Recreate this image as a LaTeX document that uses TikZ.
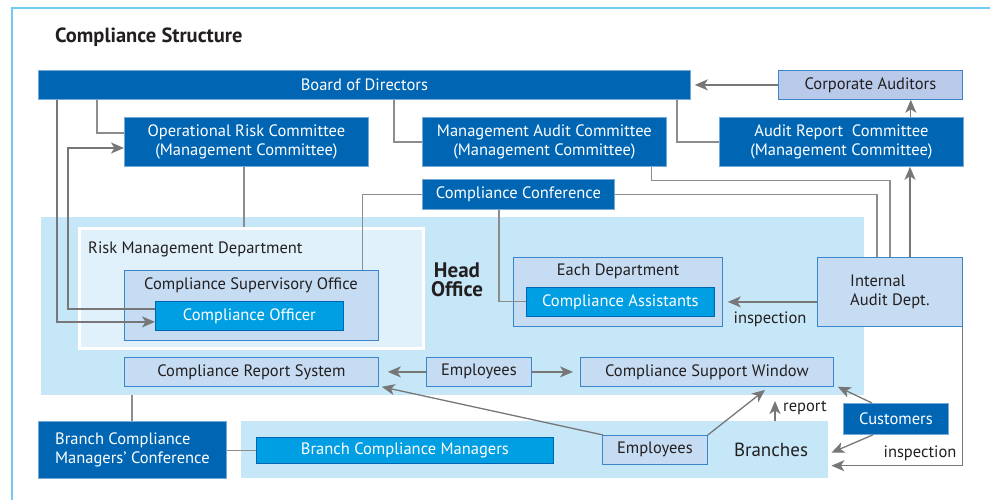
\documentclass[tikz,border=0pt]{standalone}
\usepackage{fontspec}
\setmainfont{PT Sans}
\usetikzlibrary{arrows.meta}
\definecolor{dkblue}{HTML}{0066B3}
\definecolor{cyanb}{HTML}{009FE3}
\definecolor{ltbox}{HTML}{C5DCF2}
\definecolor{bordb}{HTML}{3A86C8}
\definecolor{areac}{HTML}{C6E7F8}
\definecolor{rmdc}{HTML}{E0F1FB}
\definecolor{corpc}{HTML}{B8C9EA}
\definecolor{connc}{HTML}{8C8C8C}
\definecolor{arrc}{HTML}{777777}
\definecolor{txtc}{HTML}{231F20}
\definecolor{framec}{HTML}{6FCBF0}
\tikzset{
 box/.style={anchor=north west, inner sep=0pt, font=\fontsize{16.5}{19}\selectfont, align=center},
 darkbox/.style={box, fill=dkblue, draw=bordb!70, line width=0.8pt, text=white},
 cyanbox/.style={box, fill=cyanb, draw=dkblue, line width=0.8pt, text=white},
 lightbox/.style={box, fill=ltbox, draw=bordb, line width=0.8pt, text=txtc},
 areabox/.style={anchor=north west, inner sep=0pt, fill=areac},
 lbl/.style={inner sep=0pt, font=\fontsize{16.5}{19}\selectfont, text=txtc},
 conn/.style={draw=connc, line width=1.1pt},
 arrow/.style={draw=arrc, line width=1.3pt, -{Stealth[length=13pt,width=11pt,inset=3.5pt]}},
}
\begin{document}
\begin{tikzpicture}[x=1pt,y=-1pt]
\useasboundingbox (0,0) rectangle (990,500);
\draw[framec, line width=1.2pt] (12,500) -- (12,8) -- (990,8);
\node[anchor=west, inner sep=0pt, font=\bfseries\fontsize{20.5}{22}\selectfont, text=txtc] (title) at (55,37) {Compliance Structure};

% areas
\node[areabox, minimum width=823, minimum height=178] (ho) at (41,217) {};
\node[areabox, fill=rmdc, draw=white, line width=2.5pt, minimum width=344, minimum height=120] (rmd) at (78,227) {};
\node[areabox, minimum width=587, minimum height=57] (br) at (241,421) {};

% top level
\node[darkbox, minimum width=652, minimum height=29] (bod) at (38,70) {Board of Directors};
\node[lightbox, fill=corpc, minimum width=184, minimum height=29] (ca) at (778,70) {Corporate Auditors};
\node[darkbox, minimum width=244, minimum height=49] (orc) at (124,117) {Operational Risk Committee\\(Management Committee)};
\node[darkbox, minimum width=244, minimum height=49] (mac) at (422,117) {Management Audit Committee\\(Management Committee)};
\node[darkbox, minimum width=244, minimum height=49] (arc) at (719,117) {Audit Report\ \ Committee\\(Management Committee)};
\node[darkbox, minimum width=192, minimum height=30] (cc) at (422,179) {Compliance Conference};

% head office
\node[lbl, anchor=west] (rmdl) at (88,249) {Risk Management Department};
\node[lightbox, minimum width=254, minimum height=70] (cso) at (124,270) {};
\node[lbl] (csol) at (251,285) {Compliance Supervisory Office};
\node[cyanbox, minimum width=188, minimum height=29] (co) at (155,301) {Compliance Officer};
\node[inner sep=0pt, align=center, font=\bfseries\fontsize{21}{19}\selectfont, text=txtc] (hol) at (457,280) {Head\\Office};
\node[lightbox, minimum width=209, minimum height=69] (ed) at (513,257) {};
\node[lbl] (edl) at (618,271) {Each Department};
\node[cyanbox, minimum width=188, minimum height=29] (cas) at (526,287) {Compliance Assistants};
\node[lightbox, align=left, minimum width=145, minimum height=69] (ia) at (817,257) {Internal\\Audit Dept.};
\node[lightbox, minimum width=254, minimum height=29] (crs) at (124,357) {Compliance Report System};
\node[lightbox, minimum width=105, minimum height=29] (emph) at (426,357) {Employees};
\node[lightbox, minimum width=253, minimum height=29] (csw) at (580,357) {Compliance Support Window};

% branches
\node[darkbox, align=left, minimum width=188, minimum height=57] (bcmc) at (38,421) {Branch Compliance\\Managers’ Conference};
\node[cyanbox, minimum width=297, minimum height=26] (bcm) at (256,437) {Branch Compliance Managers};
\node[lightbox, minimum width=105, minimum height=29] (empb) at (602,435) {Employees};
\node[lbl, font=\fontsize{19}{21}\selectfont] (brl) at (771,450) {Branches};
\node[darkbox, minimum width=105, minimum height=31] (cust) at (843,403) {Customers};

% connectors
\draw[conn] ([xshift=59]bod.south west) |- ([yshift=-16]orc.north west);
\draw[conn] ([xshift=356]bod.south west) |- ([yshift=-25]mac.north west);
\draw[conn] ([xshift=639]bod.south west) |- ([yshift=-25]arc.north west);
\draw[arrow, shorten >=4pt] (ca.west) -- (bod.east);
\coordinate (arcup) at ([xshift=-53]arc.north east);
\draw[arrow] (arcup) -- (arcup |- ca.south);
\draw[arrow] ([xshift=19]bod.south west) |- ([yshift=-6]co.west);
\coordinate (c68) at ([xshift=30]bod.south west);
\coordinate (orcin) at ([yshift=-31]orc.north west);
\draw[arrow] ([yshift=7]co.west) -| (c68 |- orcin) -- (orcin);
\coordinate (orcdn) at ([xshift=120]orc.south west);
\draw[conn] (orcdn) -- (orcdn |- rmd.north);
\draw[conn] (cc.west) -| ([xshift=-16]cso.north east);
\draw[conn] ([xshift=77]cc.south west) |- (cas.west);
\draw[conn] (cc.east) -| ([xshift=60]ia.north west);
\draw[conn] ([xshift=-15]mac.south east) -- ++(0,14) -| ([xshift=73]ia.north west);
\coordinate (iaup) at ([xshift=93]ia.north west);
\draw[arrow] (iaup) -- (iaup |- arc.south);
\coordinate (iaw) at ([yshift=-10]ia.west);
\draw[arrow, shorten >=13pt] (iaw) -- (cas.east |- iaw);
\node[lbl] (insp1) at (770,319) {inspection};
\draw[arrow, shorten >=9pt] (emph.west) -- (crs.east);
\draw[arrow, shorten >=7pt] (emph.east) -- (csw.west);
\coordinate (crsdn) at ([xshift=8]crs.south west);
\draw[conn] (crsdn |- ho.south) -- (crsdn |- bcmc.north);
\draw[conn] (bcm.west -| bcmc.east) -- (bcm.west);
\draw[arrow] ([xshift=1]empb.north west) -- ([xshift=3]crs.south east);
\draw[arrow, shorten >=5pt] (empb.north east) -- ([xshift=189]csw.south west);
\coordinate (repb) at ([xshift=534]br.north west);
\draw[arrow] (repb) -- ++(0,-20);
\node[lbl, anchor=west] (repl) at (783,408) {report};
\draw[arrow] ([xshift=29]cust.north west) -- ([xshift=4]csw.south east);
\draw[arrow] ([xshift=30]cust.south west) -- ([xshift=3,yshift=-3]br.east);
\draw[arrow] (ia.south east) |- ([xshift=3,yshift=-16]br.east);
\node[lbl] (insp2) at (920,453) {inspection};
\end{tikzpicture}
\end{document}
